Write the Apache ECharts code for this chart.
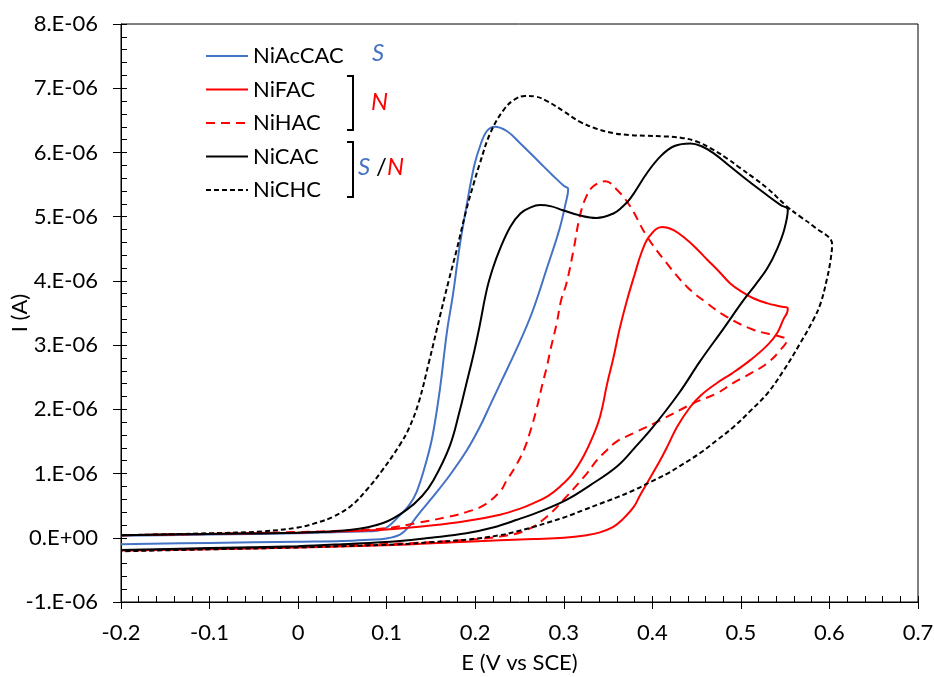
<!DOCTYPE html>
<html><head><meta charset="utf-8">
<script src="https://cdn.jsdelivr.net/npm/echarts@6/dist/echarts.min.js"></script>
<style>html,body{margin:0;padding:0;background:#fff}#c{width:934px;height:677px}</style>
</head><body><div id="c"></div>
<script>
// ---- Data (E in V vs SCE, I in units of 1e-6 A) ----
const seriesNames = ['NiAcCAC', 'NiFAC', 'NiHAC', 'NiCAC', 'NiCHC'];

const niAcCAC_E = [-0.2,-0.1,0.0,0.05,0.08,0.1,0.115,0.125,0.135,0.15,0.17,0.19,0.205,0.218,0.23,0.248,0.264,0.281,0.295,0.302,0.305,
  0.300,0.287,0.273,0.251,0.236,0.222,0.213,0.206,0.199,0.19,0.182,0.175,0.168,0.16,0.152,0.145,0.134,0.125,0.115,0.096,0.08,0.05,0.0,-0.1,-0.2];
const niAcCAC_I = [-0.10,-0.08,-0.06,-0.05,-0.03,-0.01,0.05,0.17,0.35,0.6,0.95,1.35,1.72,2.1,2.45,2.98,3.5,4.2,4.8,5.2,5.43,
  5.48,5.65,5.84,6.14,6.33,6.40,6.33,6.12,5.8,5.15,4.5,3.8,3.2,2.3,1.6,1.2,0.72,0.5,0.35,0.13,0.1,0.09,0.07,0.05,0.03];

const niFAC_E = [-0.2,-0.1,0.0,0.05,0.1,0.15,0.19,0.228,0.25,0.266,0.282,0.296,0.31,0.322,0.332,0.341,0.349,0.356,0.363,0.371,0.38,0.388,0.397,0.411,0.424,0.439,0.45,0.462,0.475,0.488,0.5,0.514,0.53,0.545,0.553,
  0.552,0.548,0.541,0.53,0.511,0.49,0.473,0.455,0.443,0.428,0.418,0.409,0.394,0.386,0.379,0.366,0.356,0.34,0.326,0.3,0.266,0.19,0.115,0.0,-0.1,-0.2];
const niFAC_I = [0.04,0.06,0.08,0.1,0.13,0.19,0.26,0.36,0.45,0.54,0.65,0.8,1.0,1.26,1.55,1.89,2.4,2.8,3.25,3.68,4.1,4.45,4.7,4.84,4.79,4.64,4.5,4.33,4.15,3.96,3.84,3.73,3.65,3.60,3.57,
  3.5,3.4,3.19,3.0,2.77,2.56,2.41,2.22,2.04,1.73,1.45,1.21,0.85,0.66,0.48,0.28,0.17,0.08,0.04,0.0,-0.02,-0.06,-0.11,-0.15,-0.18,-0.2];

const niHAC_E = [-0.2,-0.1,0.0,0.05,0.1,0.134,0.171,0.19,0.209,0.228,0.235,0.245,0.255,0.262,0.269,0.276,0.281,0.285,0.292,0.297,0.303,0.311,0.318,0.325,0.333,0.347,0.36,0.375,0.394,0.416,0.439,0.462,0.484,0.514,0.545,0.552,
  0.545,0.53,0.511,0.49,0.473,0.447,0.409,0.379,0.36,0.349,0.337,0.326,0.303,0.281,0.258,0.228,0.171,0.115,0.0,-0.1,-0.2];
const niHAC_I = [0.04,0.06,0.09,0.11,0.15,0.23,0.33,0.4,0.5,0.72,0.88,1.1,1.37,1.65,1.99,2.4,2.67,2.93,3.34,3.7,3.96,4.48,5.0,5.3,5.47,5.55,5.42,5.16,4.69,4.28,3.91,3.65,3.44,3.24,3.13,3.08,
  2.93,2.72,2.56,2.4,2.25,2.1,1.83,1.63,1.5,1.37,1.2,1.0,0.64,0.33,0.12,0.02,-0.05,-0.09,-0.14,-0.17,-0.2];

const niCAC_E = [-0.2,-0.1,0.0,0.058,0.096,0.122,0.14,0.153,0.171,0.182,0.19,0.198,0.205,0.213,0.22,0.228,0.24,0.251,0.262,0.273,0.286,0.299,0.318,0.337,0.356,0.366,0.375,0.394,0.41,0.425,0.443,0.455,0.469,0.488,0.507,0.53,0.545,0.553,
  0.549,0.541,0.53,0.517,0.503,0.48,0.454,0.43,0.401,0.38,0.36,0.33,0.303,0.275,0.247,0.22,0.19,0.15,0.115,0.05,0.0,-0.1,-0.2];
const niCAC_I = [0.04,0.06,0.08,0.12,0.23,0.43,0.65,0.9,1.42,1.95,2.4,2.85,3.3,3.86,4.2,4.5,4.85,5.05,5.14,5.18,5.16,5.1,5.02,4.98,5.05,5.15,5.28,5.68,5.95,6.1,6.14,6.1,5.99,5.78,5.57,5.33,5.18,5.11,
  4.8,4.5,4.2,3.95,3.7,3.25,2.75,2.25,1.73,1.4,1.11,0.82,0.59,0.42,0.28,0.16,0.07,0.0,-0.05,-0.1,-0.13,-0.16,-0.19];

const niCHC_E = [-0.2,-0.1,-0.04,0.0,0.02,0.04,0.06,0.077,0.095,0.115,0.125,0.136,0.148,0.16,0.17,0.179,0.19,0.198,0.205,0.217,0.232,0.244,0.256,0.268,0.281,0.3,0.318,0.337,0.356,0.375,0.394,0.413,0.432,0.45,0.469,0.485,0.499,0.515,0.53,0.552,0.567,0.582,0.603,
  0.601,0.597,0.59,0.582,0.567,0.548,0.53,0.511,0.492,0.473,0.454,0.435,0.417,0.398,0.379,0.36,0.341,0.322,0.303,0.285,0.266,0.247,0.228,0.19,0.15,0.115,0.05,0.0,-0.1,-0.2];
const niCHC_I = [0.04,0.07,0.1,0.16,0.23,0.33,0.5,0.74,1.05,1.45,1.7,2.1,2.75,3.44,4.0,4.48,5.11,5.5,5.82,6.3,6.66,6.82,6.88,6.87,6.8,6.64,6.48,6.37,6.3,6.27,6.26,6.25,6.23,6.17,6.04,5.9,5.76,5.6,5.44,5.16,5.0,4.85,4.57,
  4.3,4.02,3.65,3.4,3.03,2.6,2.25,1.98,1.73,1.52,1.32,1.15,1.0,0.87,0.74,0.63,0.53,0.43,0.33,0.25,0.17,0.1,0.04,-0.03,-0.07,-0.1,-0.13,-0.15,-0.18,-0.21];

// ---- Axis ticks ----
const xTicks = { min: -0.2, max: 0.7, step: 0.1 };
const yTicks = { min: -1, max: 8, step: 1 };

// ---- Build ----
function zip(E, I) { return E.map((e, i) => [e, I[i]]); }
const seriesData = [zip(niAcCAC_E, niAcCAC_I), zip(niFAC_E, niFAC_I), zip(niHAC_E, niHAC_I), zip(niCAC_E, niCAC_I), zip(niCHC_E, niCHC_I)];
const styles = [
  { color: '#4472C4', type: 'solid' },
  { color: '#FF0000', type: 'solid' },
  { color: '#FF0000', type: [9, 6] },
  { color: '#000000', type: 'solid' },
  { color: '#000000', type: [5, 3] }
];
const FONT = 'Lato';
const chart = echarts.init(document.getElementById('c'), null, { renderer: 'canvas' });
const gridRect = { left: 121, right: 16, top: 24, bottom: 75, containLabel: false, outerBoundsMode: 'none' };
const yFmt = v => (v === 0 ? '0.E+00' : Math.round(v) + '.E-06');
const xFmt = v => String(+v.toFixed(1));

chart.setOption({
  animation: false,
  backgroundColor: '#fff',
  grid: [
    Object.assign({ show: true, borderColor: '#000', borderWidth: 1, backgroundColor: 'transparent' }, gridRect),
    Object.assign({ show: false }, gridRect)
  ],
  legend: {
    orient: 'vertical', left: 200, top: 40,
    itemWidth: 42, itemHeight: 12, itemGap: 11.5,
    itemStyle: { opacity: 0 },
    textStyle: { fontFamily: FONT, fontSize: 22, color: '#000', lineHeight: 22 },
    data: seriesNames
  },
  xAxis: [
    { type: 'value', gridIndex: 0, min: xTicks.min, max: xTicks.max, interval: xTicks.step,
      name: 'E (V vs SCE)', nameLocation: 'middle', nameGap: 50, nameMoveOverlap: false,
      nameTextStyle: { fontFamily: FONT, fontSize: 22, color: '#000' },
      axisLine: { onZero: false, lineStyle: { color: '#000', width: 1 } },
      axisTick: { show: true, inside: false, length: 7, lineStyle: { color: '#000' } },
      axisLabel: { formatter: xFmt, margin: 20, fontFamily: FONT, fontSize: 22, color: '#000' },
      splitLine: { show: false } },
    { type: 'value', gridIndex: 1, min: xTicks.min, max: xTicks.max, interval: xTicks.step,
      axisLine: { show: false, onZero: false }, axisLabel: { show: false },
      axisTick: { show: true, inside: true, length: 6, lineStyle: { color: '#000' } },
      minorTick: { show: true, splitNumber: 5, length: 6, lineStyle: { color: '#000' } },
      splitLine: { show: false } }
  ],
  yAxis: [
    { type: 'value', gridIndex: 0, min: yTicks.min, max: yTicks.max, interval: yTicks.step,
      name: 'I (A)', nameLocation: 'middle', nameGap: 90, nameRotate: 90, nameMoveOverlap: false,
      nameTextStyle: { fontFamily: FONT, fontSize: 22, color: '#000' },
      axisLine: { show: true, onZero: false, lineStyle: { color: '#000', width: 1 } },
      axisTick: { show: true, inside: false, length: 8, lineStyle: { color: '#000' } },
      axisLabel: { formatter: yFmt, margin: 23, fontFamily: FONT, fontSize: 22, color: '#000' },
      splitLine: { show: false } },
    { type: 'value', gridIndex: 1, min: yTicks.min, max: yTicks.max, interval: yTicks.step,
      axisLine: { show: false, onZero: false }, axisLabel: { show: false },
      axisTick: { show: true, inside: true, length: 6, lineStyle: { color: '#000' } },
      minorTick: { show: true, splitNumber: 5, length: 6, lineStyle: { color: '#000' } },
      splitLine: { show: false } }
  ],
  series: seriesNames.map((n, i) => ({
    name: n, type: 'line', xAxisIndex: 0, yAxisIndex: 0,
    data: seriesData[i], showSymbol: false, symbol: 'none', smooth: 0.4,
    lineStyle: { color: styles[i].color, width: 2, type: styles[i].type },
    itemStyle: { color: styles[i].color }
  })),
  graphic: [
    { type: 'text', left: 372, top: 41, style: { text: 'S', fill: '#4472C4', fontFamily: FONT, fontStyle: 'italic', fontSize: 24 } },
    { type: 'text', left: 371, top: 90, style: { text: 'N', fill: '#FF0000', fontFamily: FONT, fontStyle: 'italic', fontSize: 24 } },
    { type: 'polyline', shape: { points: [[347, 76], [353, 76], [353, 130], [347, 130]] }, style: { stroke: '#000', lineWidth: 2, fill: null } },
    { type: 'polyline', shape: { points: [[347, 142], [353, 142], [353, 197], [347, 197]] }, style: { stroke: '#000', lineWidth: 2, fill: null } },
    { type: 'text', left: 358, top: 155, style: { text: 'S', fill: '#4472C4', fontFamily: FONT, fontStyle: 'italic', fontSize: 24 } },
    { type: 'text', left: 376, top: 155, style: { text: '/', fill: '#000', fontFamily: FONT, fontSize: 24 } },
    { type: 'text', left: 387, top: 155, style: { text: 'N', fill: '#FF0000', fontFamily: FONT, fontStyle: 'italic', fontSize: 24 } }
  ]
});
</script></body></html>
